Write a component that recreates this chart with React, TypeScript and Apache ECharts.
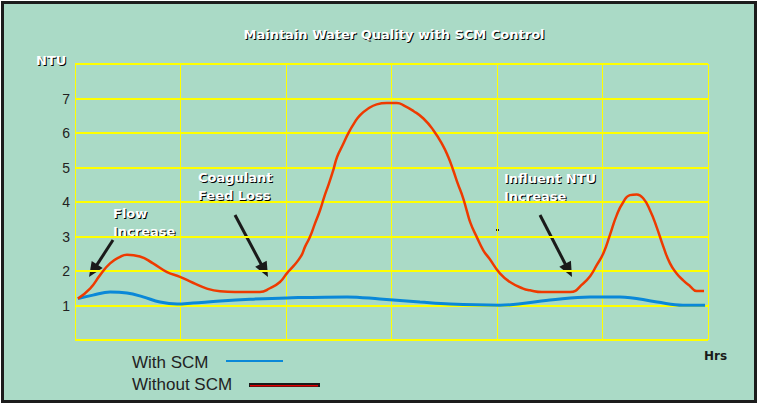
import React, { useEffect, useRef } from "react";
import * as echarts from "echarts";

const TITLE = "Maintain Water Quality with SCM Control";
const Y_NAME = "NTU";
const X_NAME = "Hrs";
const SERIES_NAMES = ["With SCM", "Without SCM"];
const yTickLabels = ["1", "2", "3", "4", "5", "6", "7"];

const withoutHrs = [0.11, 0.57, 0.95, 1.33, 1.71, 1.97, 2.46, 2.96, 3.49, 3.98, 4.47, 5.0, 5.5, 6.07, 7.01, 7.39, 7.77, 8.04, 8.28, 8.57, 8.72, 8.91, 9.1, 9.29, 9.45, 9.63, 9.79, 9.94, 10.15, 10.36, 10.58, 10.81, 11.12, 11.44, 11.82, 12.2, 12.51, 12.83, 13.21, 13.58, 13.94, 14.15, 14.34, 14.51, 14.7, 14.85, 15.0, 15.23, 15.48, 15.71, 16.11, 16.49, 16.99, 17.25, 17.7, 18.77, 19.27, 19.53, 19.78, 20.03, 20.28, 20.54, 20.79, 21.04, 21.3, 21.55, 21.8, 22.05, 22.31, 22.56, 22.81, 23.06, 23.32, 23.57, 23.85];
const withoutNtu = [1.2, 1.49, 1.88, 2.22, 2.41, 2.47, 2.42, 2.22, 1.97, 1.83, 1.66, 1.49, 1.41, 1.39, 1.39, 1.5, 1.68, 1.94, 2.14, 2.43, 2.7, 2.99, 3.38, 3.76, 4.15, 4.54, 4.92, 5.31, 5.65, 5.99, 6.28, 6.52, 6.71, 6.83, 6.87, 6.87, 6.78, 6.64, 6.42, 6.09, 5.65, 5.31, 4.92, 4.54, 4.15, 3.76, 3.38, 2.99, 2.6, 2.36, 1.93, 1.68, 1.49, 1.44, 1.39, 1.39, 1.64, 1.85, 2.17, 2.51, 3.04, 3.62, 4.0, 4.2, 4.22, 4.1, 3.76, 3.28, 2.7, 2.22, 1.93, 1.73, 1.56, 1.42, 1.42];

const withHrs = [0.11, 0.68, 1.33, 1.97, 2.58, 3.22, 3.87, 4.47, 5.5, 6.64, 8.04, 10.31, 11.56, 13.08, 14.22, 16.11, 18.01, 19.53, 20.66, 22.07, 23.05, 23.89];
const withNtu = [1.2, 1.3, 1.39, 1.36, 1.25, 1.1, 1.04, 1.07, 1.13, 1.18, 1.22, 1.25, 1.19, 1.1, 1.04, 1.01, 1.16, 1.25, 1.25, 1.1, 1.01, 1.01];

const annotations = [
  { lines: ["Flow", "Increase"], x: 113, y: 213 },
  { lines: ["Coagulant", "Feed Loss"], x: 198, y: 177 },
  { lines: ["Influent NTU", "Increase"], x: 504, y: 178 },
];
const arrows = [
  [113, 240, 89, 277],
  [235, 215, 268, 277],
  [540, 215, 572, 277],
];

const BG = "#aadac6";
const RED = "#ee3a00";
const BLUE = "#0a88d8";
const YELLOW = "#ffff00";

function arrowEls(x1: number, y1: number, x2: number, y2: number) {
  const dx = x2 - x1;
  const dy = y2 - y1;
  const len = Math.sqrt(dx * dx + dy * dy);
  const ux = dx / len;
  const uy = dy / len;
  const hl = 15;
  const hw = 6.5;
  const bx = x2 - ux * hl;
  const by = y2 - uy * hl;
  const nx = -uy;
  const ny = ux;
  return [
    {
      type: "line",
      shape: { x1, y1, x2: bx + ux * 2, y2: by + uy * 2 },
      style: { stroke: "#1a1a1a", lineWidth: 3 },
    },
    {
      type: "polygon",
      shape: {
        points: [
          [x2, y2],
          [bx + nx * hw, by + ny * hw],
          [bx - nx * hw, by - ny * hw],
        ],
      },
      style: { fill: "#1a1a1a" },
    },
  ];
}

function shadowText(text: string, x: number, y: number, font: string, extra: any = {}) {
  return [
    {
      type: "text",
      x: x + 1,
      y: y + 1,
      silent: true,
      style: { text, fill: "#000000", font, textVerticalAlign: "middle", ...extra },
    },
    {
      type: "text",
      x,
      y,
      style: { text, fill: "#ffffff", font, textVerticalAlign: "middle", ...extra },
    },
  ];
}

export default function App() {
  const ref = useRef<HTMLDivElement>(null);
  useEffect(() => {
    if (!ref.current) return;
    const chart = echarts.init(ref.current, undefined, { renderer: "svg" });
    const annoFont = 'bold 13px "DejaVu Sans"';
    const graphics: any[] = [
      {
        type: "rect",
        z: -100,
        shape: { x: 2.5, y: 2.5, width: 753, height: 399 },
        style: { fill: BG, stroke: "#1c1c1c", lineWidth: 3 },
      },
      ...shadowText(TITLE, 394, 34, 'bold 13px "DejaVu Sans"', { textAlign: "center" }),
      ...shadowText(Y_NAME, 36, 60, 'bold 13px "DejaVu Sans"'),
      {
        type: "text",
        x: 704,
        y: 356,
        style: { text: X_NAME, fill: "#1a1a1a", font: 'bold 12px "DejaVu Sans"', textVerticalAlign: "middle" },
      },
      {
        type: "text",
        x: 132,
        y: 362,
        style: { text: SERIES_NAMES[0], fill: "#222", font: '17px "Liberation Sans"', textVerticalAlign: "middle" },
      },
      {
        type: "rect",
        shape: { x: 226, y: 360, width: 57, height: 2 },
        style: { fill: BLUE },
      },
      {
        type: "text",
        x: 132,
        y: 384,
        style: { text: SERIES_NAMES[1], fill: "#222", font: '17px "Liberation Sans"', textVerticalAlign: "middle" },
      },
      {
        type: "rect",
        shape: { x: 249, y: 383, width: 71, height: 4 },
        style: { fill: "#1a1a1a" },
      },
      {
        type: "rect",
        shape: { x: 250, y: 385, width: 68, height: 1.5 },
        style: { fill: "#e00000" },
      },
      {
        type: "rect",
        shape: { x: 496, y: 229, width: 3, height: 2 },
        style: { fill: "#1a1a1a" },
      },
    ];
    annotations.forEach((a) => {
      a.lines.forEach((t, i) => {
        graphics.push(...shadowText(t, a.x, a.y + i * 18, annoFont));
      });
    });
    arrows.forEach((a) => graphics.push(...arrowEls(a[0], a[1], a[2], a[3])));

    chart.setOption({
      animation: false,
      backgroundColor: "#ffffff",
      grid: { left: 75, top: 64, right: 52, bottom: 66, show: false },
      xAxis: {
        type: "value",
        min: 0,
        max: 24,
        interval: 4,
        axisLine: { show: false },
        axisTick: { show: false },
        axisLabel: { show: false },
        splitLine: { show: true, lineStyle: { color: YELLOW, width: 1 } },
      },
      yAxis: {
        type: "value",
        min: 0,
        max: 8,
        interval: 1,
        axisLine: { show: false },
        axisTick: { show: false },
        axisLabel: {
          margin: 5,
          color: "#222",
          fontFamily: "Liberation Sans",
          fontSize: 14,
          formatter: (v: number) => (yTickLabels.includes(String(v)) ? String(v) : ""),
        },
        splitLine: { show: true, lineStyle: { color: YELLOW, width: 2 } },
      },
      series: [
        {
          name: SERIES_NAMES[0],
          type: "line",
          smooth: 0.4,
          showSymbol: false,
          lineStyle: { color: BLUE, width: 3 },
          data: withHrs.map((h, i) => [h, withNtu[i]]),
        },
        {
          name: SERIES_NAMES[1],
          type: "line",
          smooth: 0.5,
          showSymbol: false,
          lineStyle: { color: RED, width: 2.5 },
          data: withoutHrs.map((h, i) => [h, withoutNtu[i]]),
        },
      ],
      graphic: { elements: graphics },
    });
    return () => chart.dispose();
  }, []);
  return (
    <div
      ref={ref}
      style={{ position: "fixed", left: 0, top: 0, width: 760, height: 406 }}
    />
  );
}
